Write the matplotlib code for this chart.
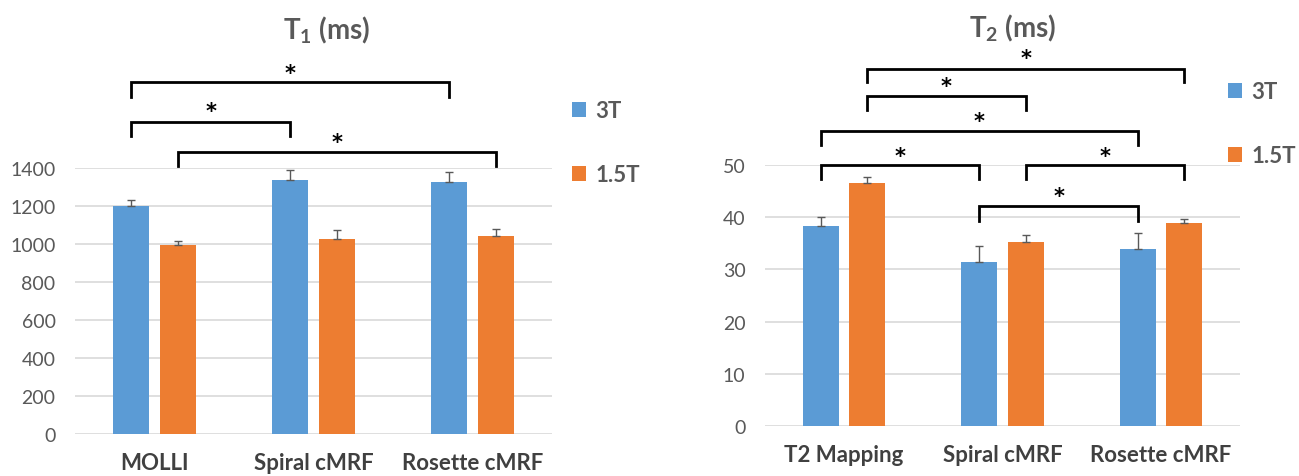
import numpy as np
import matplotlib
matplotlib.use("Agg")
import matplotlib.pyplot as plt

plt.rcParams["font.family"] = ["Lato", "DejaVu Sans"]
plt.rcParams["mathtext.fontset"] = "custom"
plt.rcParams["mathtext.rm"] = "Lato:bold"
plt.rcParams["mathtext.bf"] = "Lato:bold"

# ---------------------------------------------------------------------------
# Data
# ---------------------------------------------------------------------------
SERIES = ["3T", "1.5T"]

t1_categories = ["MOLLI", "Spiral cMRF", "Rosette cMRF"]
t1_3t = [1200, 1338, 1328]
t1_3t_err = [32, 50, 50]
t1_15t = [996, 1026, 1040]
t1_15t_err = [18, 46, 37]
t1_ticks = [0, 200, 400, 600, 800, 1000, 1200, 1400]

t2_categories = ["T2 Mapping", "Spiral cMRF", "Rosette cMRF"]
t2_3t = [38.4, 31.5, 34.0]
t2_3t_err = [1.6, 3.0, 3.0]
t2_15t = [46.6, 35.2, 38.9]
t2_15t_err = [1.1, 1.3, 0.8]
t2_ticks = [0, 10, 20, 30, 40, 50]

# significance brackets: (group_a, series_a, group_b, series_b, top, leg_bottom, star_y)
t1_brackets = [
    (0, 0, 2, 0, 1853, 1774, 1932),
    (0, 0, 1, 0, 1642, 1568, 1732),
    (0, 1, 2, 1, 1484, 1411, 1568),
]
t2_brackets = [
    (0, 1, 2, 1, 68.4, 65.9, 71.6),
    (0, 1, 1, 1, 63.2, 60.5, 66.3),
    (0, 0, 2, 0, 56.5, 53.8, 59.6),
    (0, 0, 1, 0, 50.0, 47.3, 52.9),
    (1, 1, 2, 1, 50.0, 47.3, 52.9),
    (1, 0, 2, 0, 42.1, 39.3, 45.2),
]

BLUE = "#5B9BD5"
ORANGE = "#ED7D31"
GRID = "#D9D9D9"
TEXT = "#595959"

W_PX, H_PX = 1299, 477
BAR_W = 0.226
OFFSET = 0.146


def fig_box(x0, x1, y_bottom, y_top):
    """Axes rectangle from pixel coordinates (y measured from the top)."""
    return [x0 / W_PX, 1 - y_bottom / H_PX, (x1 - x0) / W_PX, (y_bottom - y_top) / H_PX]


def draw_panel(ax, cats, v3, e3, v15, e15, ticks, brackets, ymax):
    x = np.arange(len(cats))
    ekw = dict(ecolor="#595959", elinewidth=1.0, capsize=3, capthick=1.0)
    ax.bar(x - OFFSET, v3, BAR_W, color=BLUE, label=SERIES[0], zorder=3,
           yerr=[np.zeros(len(e3)), e3], error_kw=ekw)
    ax.bar(x + OFFSET, v15, BAR_W, color=ORANGE, label=SERIES[1], zorder=3,
           yerr=[np.zeros(len(e15)), e15], error_kw=ekw)

    ax.set_xlim(-0.5, len(cats) - 0.5)
    ax.set_ylim(0, ymax)
    ax.set_yticks(ticks)
    ax.set_xticks(x)
    ax.set_xticklabels(cats, fontsize=16, fontweight="bold", color="#404040")
    ax.tick_params(axis="x", length=0, pad=13)
    ax.tick_params(axis="y", length=0, pad=14, labelsize=14, labelcolor=TEXT)
    for s in ax.spines.values():
        s.set_visible(False)
    ax.yaxis.grid(True, color=GRID, lw=1.2, zorder=0)
    ax.set_axisbelow(True)

    for ga, sa, gb, sb, top, leg, star in brackets:
        xa = ga + (OFFSET if sa else -OFFSET)
        xb = gb + (OFFSET if sb else -OFFSET)
        ax.plot([xa, xa, xb, xb], [leg, top, top, leg], color="black", lw=2,
                clip_on=False, solid_joinstyle="miter", zorder=4)
        ax.annotate("*", ((xa + xb) / 2, star), xytext=(0, -8.5),
                    textcoords="offset points", ha="center", va="baseline",
                    fontsize=15, fontweight="bold", color="black",
                    family="DejaVu Sans", annotation_clip=False)


fig = plt.figure(figsize=(W_PX / 100, H_PX / 100), dpi=100)

ax1 = fig.add_axes(fig_box(75, 552, 435, 169))
draw_panel(ax1, t1_categories, t1_3t, t1_3t_err, t1_15t, t1_15t_err,
           t1_ticks, t1_brackets, 1400)

ax2 = fig.add_axes(fig_box(765, 1240, 427, 166))
draw_panel(ax2, t2_categories, t2_3t, t2_3t_err, t2_15t, t2_15t_err,
           t2_ticks, t2_brackets, 50)

fig.text(327 / W_PX, 1 - 30 / H_PX, r"T$_1$ (ms)", ha="center",
         va="center", fontsize=20, fontweight="bold", color=TEXT)
fig.text(1013 / W_PX, 1 - 28 / H_PX, r"T$_2$ (ms)", ha="center",
         va="center", fontsize=20, fontweight="bold", color=TEXT)

leg_kw = dict(loc="upper left", frameon=False, labelspacing=1.95,
              handlelength=0.65, handleheight=0.65, handletextpad=0.4,
              borderpad=0, borderaxespad=0, bbox_transform=fig.transFigure,
              prop={"weight": "bold", "size": 16})
leg1 = ax1.legend(bbox_to_anchor=(572 / W_PX, 1 - 101 / H_PX), **leg_kw)
leg2 = ax2.legend(bbox_to_anchor=(1228 / W_PX, 1 - 82 / H_PX), **leg_kw)
for leg in (leg1, leg2):
    for t in leg.get_texts():
        t.set_color(TEXT)

fig.savefig("out.png", dpi=100)
